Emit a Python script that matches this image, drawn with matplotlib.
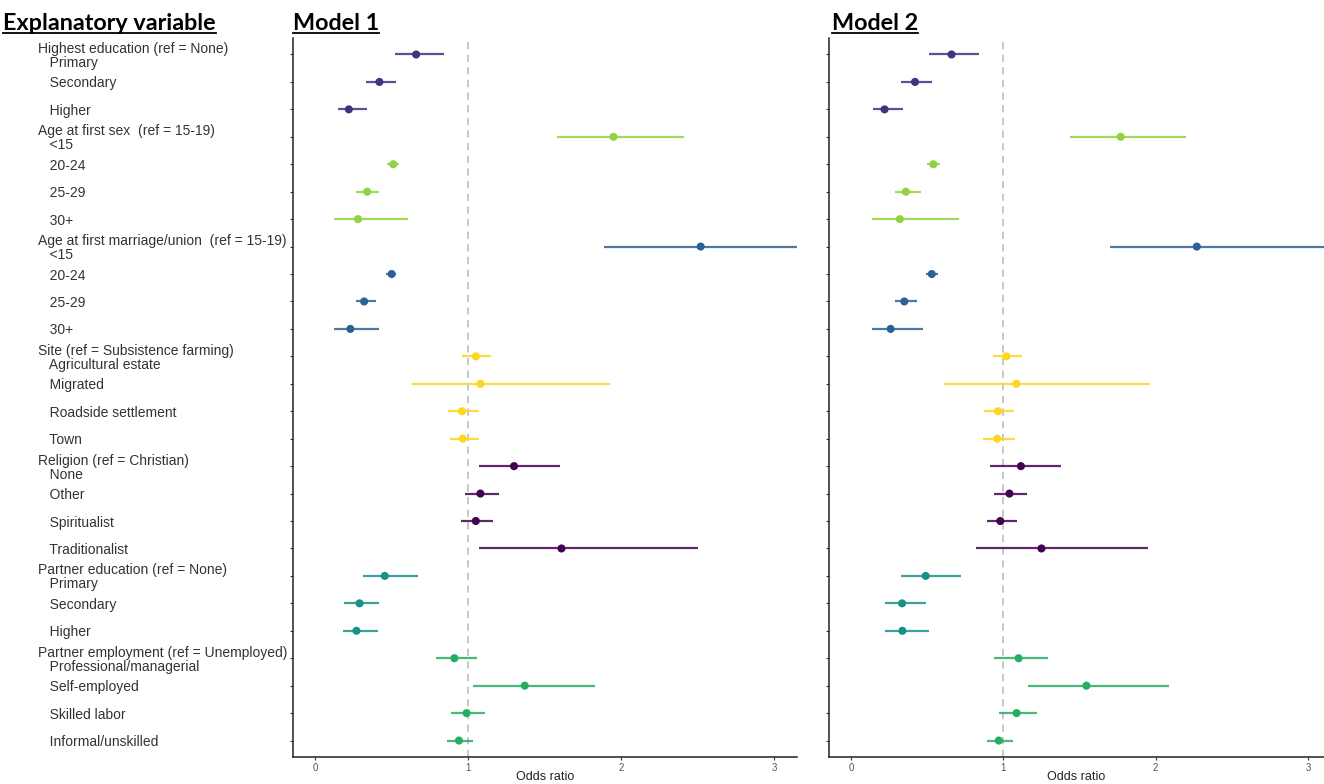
import numpy as np
import matplotlib.pyplot as plt
from matplotlib.lines import Line2D

plt.rcParams['font.family'] = ['Liberation Sans', 'DejaVu Sans']

# groups of explanatory variables and their levels
group_names = [
    'Highest education (ref = None)',
    'Age at first sex  (ref = 15-19)',
    'Age at first marriage/union  (ref = 15-19)',
    'Site (ref = Subsistence farming)',
    'Religion (ref = Christian)',
    'Partner education (ref = None)',
    'Partner employment (ref = Unemployed)',
]
group_levels = [
    ['Primary', 'Secondary', 'Higher'],
    ['<15', '20-24', '25-29', '30+'],
    ['<15', '20-24', '25-29', '30+'],
    ['Agricultural estate', 'Migrated', 'Roadside settlement', 'Town'],
    ['None', 'Other', 'Spiritualist', 'Traditionalist'],
    ['Primary', 'Secondary', 'Higher'],
    ['Professional/managerial', 'Self-employed', 'Skilled labor', 'Informal/unskilled'],
]
group_colors = ['#3f3480', '#90d33f', '#2c6194', '#fcd71e', '#440154', '#1b8f88', '#27ad63']

# Model 1: odds ratio, lower and upper CI
or1 = [0.66, 0.42, 0.22,
       1.95, 0.51, 0.34, 0.28,
       2.52, 0.50, 0.32, 0.23,
       1.05, 1.08, 0.96, 0.965,
       1.30, 1.08, 1.05, 1.61,
       0.455, 0.29, 0.27,
       0.91, 1.37, 0.99, 0.94]
lo1 = [0.52, 0.33, 0.15,
       1.58, 0.47, 0.27, 0.12,
       1.89, 0.46, 0.27, 0.12,
       0.96, 0.63, 0.87, 0.88,
       1.07, 0.98, 0.95, 1.07,
       0.31, 0.19, 0.18,
       0.79, 1.03, 0.89, 0.86]
hi1 = [0.84, 0.53, 0.34,
       2.41, 0.55, 0.42, 0.61,
       3.40, 0.53, 0.40, 0.42,
       1.15, 1.93, 1.07, 1.07,
       1.60, 1.20, 1.16, 2.50,
       0.67, 0.42, 0.41,
       1.06, 1.83, 1.11, 1.03]

# Model 2
or2 = [0.66, 0.42, 0.22,
       1.77, 0.54, 0.36, 0.32,
       2.27, 0.53, 0.35, 0.26,
       1.02, 1.085, 0.965, 0.96,
       1.115, 1.04, 0.98, 1.25,
       0.49, 0.335, 0.337,
       1.10, 1.545, 1.087, 0.97]
lo2 = [0.51, 0.33, 0.145,
       1.44, 0.50, 0.29, 0.14,
       1.70, 0.49, 0.29, 0.14,
       0.93, 0.61, 0.87, 0.865,
       0.91, 0.94, 0.89, 0.82,
       0.33, 0.225, 0.22,
       0.94, 1.16, 0.97, 0.89]
hi2 = [0.84, 0.53, 0.34,
       2.20, 0.585, 0.46, 0.71,
       3.40, 0.57, 0.43, 0.475,
       1.12, 1.96, 1.07, 1.075,
       1.38, 1.155, 1.09, 1.95,
       0.72, 0.49, 0.51,
       1.295, 2.085, 1.22, 1.06]

labels = []
colors = []
for name, levels, c in zip(group_names, group_levels, group_colors):
    for i, lev in enumerate(levels):
        if i == 0:
            labels.append(name + '\n   ' + lev)
        else:
            labels.append('   ' + lev)
        colors.append(c)

y = np.arange(1, len(labels) + 1)

fig = plt.figure(figsize=(13.24, 7.84), dpi=100)
ax1 = fig.add_axes([0.2213, 0.0344, 0.3807, 0.9171])
ax2 = fig.add_axes([0.6261, 0.0344, 0.3739, 0.9171])

for ax, orv, lo, hi, xmax in [(ax1, or1, lo1, hi1, 3.15), (ax2, or2, lo2, hi2, 3.105)]:
    ax.axvline(1, color='#c4c4c4', lw=1.3, ls=(0, (4, 3)), zorder=1)
    ax.hlines(y, lo, hi, colors=colors, lw=1.6, alpha=0.85, zorder=2)
    ax.scatter(orv, y, c=colors, s=34, zorder=3, linewidths=0)
    ax.set_xlim(-0.145, xmax)
    ax.set_ylim(26.6, 0.4)
    ax.set_xticks([0, 1, 2, 3])
    ax.set_yticks(y)
    for s in ['top', 'right']:
        ax.spines[s].set_visible(False)
    for s in ['left', 'bottom']:
        ax.spines[s].set_linewidth(1.1)
        ax.spines[s].set_color('#222222')
    ax.tick_params(axis='x', length=2.5, width=0.8, color='#333333',
                   labelsize=7, labelcolor='#555555', pad=1.5)
    ax.tick_params(axis='y', length=2.5, width=0.8, color='#333333')
    ax.set_xlabel('Odds ratio', fontsize=9, color='#222222', va='bottom')
    ax.xaxis.set_label_coords(0.5, -0.0362)

ax1.set_yticklabels(labels, ha='left', fontsize=10, color='#333333', linespacing=1.0)
ax1.tick_params(axis='y', pad=181)
ax2.set_yticklabels([])

titles = [
    fig.text(0.0023, 0.9617, 'Explanatory variable', family='Lato', weight='bold', fontsize=16.8, va='baseline'),
    fig.text(0.2213, 0.9617, 'Model 1', family='Lato', weight='bold', fontsize=16.8, va='baseline'),
    fig.text(0.6284, 0.9617, 'Model 2', family='Lato', weight='bold', fontsize=16.8, va='baseline'),
]

fig.canvas.draw()
r = fig.canvas.get_renderer()
inv = fig.transFigure.inverted()
for t in titles:
    bb = t.get_window_extent(r).transformed(inv)
    yl = 1 - 32.5 / 784
    fig.add_artist(Line2D([bb.x0, bb.x1], [yl, yl], color='black', lw=1.3))

fig.savefig('out.png', dpi=100)
